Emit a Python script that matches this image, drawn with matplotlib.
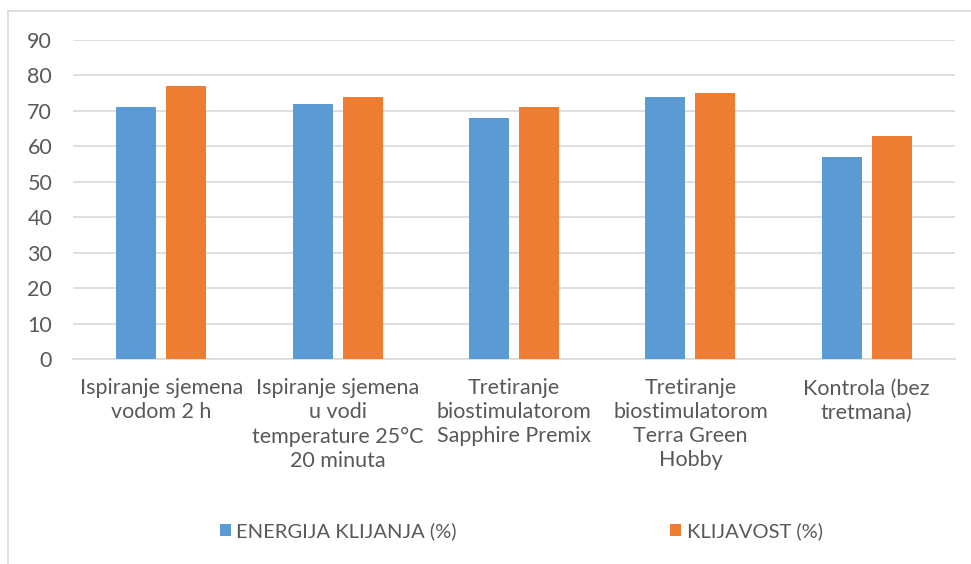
import matplotlib
matplotlib.use('Agg')
import numpy as np
import matplotlib.pyplot as plt
from matplotlib.lines import Line2D

plt.rcParams['font.family'] = ['Lato', 'DejaVu Sans']

categories = ['Ispiranje sjemena\nvodom 2 h',
              'Ispiranje sjemena\nu vodi\ntemperature 25°C\n20 minuta',
              'Tretiranje\nbiostimulatorom\nSapphire Premix',
              'Tretiranje\nbiostimulatorom\nTerra Green\nHobby',
              'Kontrola (bez\ntretmana)']
energija = [71, 72, 68, 74, 57]
klijavost = [77, 74, 71, 75, 63]
series_names = ['ENERGIJA KLIJANJA (%)', 'KLIJAVOST (%)']
yticks = [0, 10, 20, 30, 40, 50, 60, 70, 80, 90]

blue = '#5B9BD5'
orange = '#ED7D31'
txt = '#595959'
grid = '#D9D9D9'

fig = plt.figure(figsize=(9.71, 5.64), dpi=100)
ax = fig.add_axes([0.0752, 0.3635, 0.9083, 0.5655])

x = np.arange(len(categories))
w = 0.227
b1 = ax.bar(x - 0.142, energija, w, color=blue, zorder=3)
b2 = ax.bar(x + 0.142, klijavost, w, color=orange, zorder=3)

ax.set_xlim(-0.5, len(categories) - 0.5)
ax.set_ylim(0, 90)
ax.set_yticks(yticks)
ax.yaxis.grid(True, color=grid, linewidth=1.2, zorder=0)
for s in ['top', 'right', 'left']:
    ax.spines[s].set_visible(False)
ax.spines['bottom'].set_color(grid)
ax.spines['bottom'].set_linewidth(1.2)
ax.tick_params(axis='both', length=0, colors=txt, labelsize=15.5)
ax.tick_params(axis='y', pad=15)
ax.tick_params(axis='x', pad=14)
ax.set_xticks(x)
ax.set_xticklabels(categories, linespacing=1.25)

fig.legend([b1, b2], series_names, loc='center', bbox_to_anchor=(0.537, 0.0585),
           ncol=2, frameon=False, fontsize=14.5, labelcolor=txt,
           handlelength=0.55, handleheight=0.55, handletextpad=0.25, columnspacing=10.6)

# chart frame border
fig.add_artist(Line2D([8 / 971, 8 / 971], [0, 1 - 11 / 564], color=grid, lw=1.2))
fig.add_artist(Line2D([8 / 971, 1], [1 - 11 / 564, 1 - 11 / 564], color=grid, lw=1.2))

fig.savefig('out.png', dpi=100)
